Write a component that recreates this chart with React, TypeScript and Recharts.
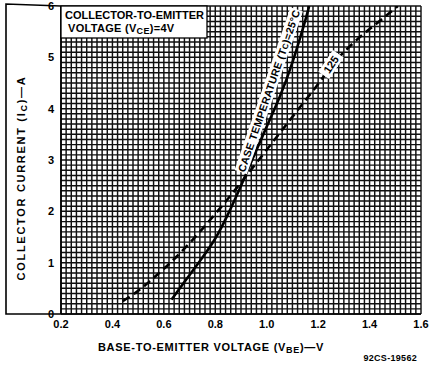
import React from 'react';
import { LineChart, Line, XAxis, YAxis, CartesianGrid, ReferenceDot } from 'recharts';

// 25 °C case temperature curve (solid)
const vbe25 = [0.63, 0.65, 0.7, 0.75, 0.8, 0.85, 0.9, 0.95, 1.0, 1.05, 1.1, 1.15, 1.165];
const ic25 = [0.28, 0.42, 0.76, 1.1, 1.47, 1.95, 2.5, 3.08, 3.65, 4.22, 4.9, 5.72, 6.0];
// 125 °C case temperature curve (dashed)
const vbe125 = [0.44, 0.5, 0.55, 0.6, 0.65, 0.7, 0.75, 0.8, 0.85, 0.9, 0.95, 1.0, 1.05, 1.1, 1.15, 1.2, 1.25, 1.3, 1.35, 1.4, 1.45, 1.51];
const ic125 = [0.25, 0.45, 0.66, 0.88, 1.12, 1.38, 1.66, 1.95, 2.25, 2.56, 2.88, 3.2, 3.52, 3.84, 4.16, 4.48, 4.82, 5.1, 5.34, 5.55, 5.75, 6.0];

const xLabels = ['0.2', '0.4', '0.6', '0.8', '1.0', '1.2', '1.4', '1.6'];
const yLabels = ['0', '1', '2', '3', '4', '5', '6'];

const X_MIN = 0.2, X_MAX = 1.6, X_MINOR = 0.02;
const Y_MIN = 0, Y_MAX = 6, Y_MINOR = 0.1;

const xTicks: number[] = [];
for (let i = 0; i <= Math.round((X_MAX - X_MIN) / X_MINOR); i++) xTicks.push(Number((X_MIN + i * X_MINOR).toFixed(2)));
const yTicks: number[] = [];
for (let i = 0; i <= Math.round((Y_MAX - Y_MIN) / Y_MINOR); i++) yTicks.push(Number((Y_MIN + i * Y_MINOR).toFixed(2)));

const data25 = vbe25.map((v, i) => ({ v, ic: ic25[i] }));
const data125 = vbe125.map((v, i) => ({ v, ic: ic125[i] }));

const FONT = '"Liberation Sans", Arial, sans-serif';

const fmtX = (val: number) => {
  const lbl = xLabels.find((l) => Math.abs(parseFloat(l) - val) < 1e-6);
  return lbl ?? '';
};
const fmtY = (val: number) => {
  const lbl = yLabels.find((l) => Math.abs(parseFloat(l) - val) < 1e-6);
  return lbl ?? '';
};

const BandLabel = (props: any) => {
  const vb = props.viewBox || {};
  const cx = (vb.x ?? 0) + (vb.width ?? 0) / 2;
  const cy = (vb.y ?? 0) + (vb.height ?? 0) / 2;
  const { angle, w, h, children, dx = 0, dy = 0 } = props.cfg;
  return (
    <g transform={`translate(${cx + dx},${cy + dy}) rotate(${angle})`}>
      <rect x={-w / 2} y={-h / 2} width={w} height={h} fill="#fff" />
      {children}
    </g>
  );
};

export default function App() {
  return (
    <div style={{ position: 'fixed', left: 0, top: 0, width: 431, height: 365, background: '#fff' }}>
      <LineChart
        width={431}
        height={365}
        margin={{ top: 6, right: 10, bottom: 0, left: 0 }}
        style={{ position: 'absolute', left: 0, top: 0 }}
      >
        <CartesianGrid stroke="#111" strokeWidth={1.45} />
        <XAxis
          type="number"
          dataKey="v"
          domain={[X_MIN, X_MAX]}
          ticks={xTicks}
          interval={0}
          tickFormatter={fmtX}
          tickLine={false}
          tickSize={0}
          tickMargin={6}
          height={51}
          axisLine={{ stroke: '#000', strokeWidth: 1.6 }}
          tick={{ fill: '#000', fontSize: 11, fontWeight: 700, fontFamily: FONT }}
          allowDataOverflow
        />
        <YAxis
          type="number"
          dataKey="ic"
          domain={[Y_MIN, Y_MAX]}
          ticks={yTicks}
          interval={0}
          tickFormatter={fmtY}
          tickLine={false}
          tickSize={0}
          tickMargin={7}
          width={61}
          axisLine={{ stroke: '#000', strokeWidth: 1.6 }}
          tick={{ fill: '#000', fontSize: 11, fontWeight: 700, fontFamily: FONT }}
          allowDataOverflow
        />
        <Line
          data={data125}
          dataKey="ic"
          type="natural"
          stroke="#000"
          strokeWidth={2.6}
          strokeDasharray="8 5"
          dot={false}
          isAnimationActive={false}
        />
        <Line
          data={data25}
          dataKey="ic"
          type="natural"
          stroke="#000"
          strokeWidth={2.6}
          dot={false}
          isAnimationActive={false}
        />
        <ReferenceDot
          x={1.0}
          y={4.35}
          r={1}
          fill="none"
          stroke="none"
          ifOverflow="visible"
          label={(p: any) => (
            <BandLabel
              {...p}
              cfg={{
                angle: -71,
                dx: 2,
                w: 172,
                h: 13,
                children: (
                  <text
                    x={0}
                    y={4}
                    textAnchor="middle"
                    fontSize={10.5}
                    fontWeight={700}
                    fontFamily={FONT}
                    fill="#000"
                    letterSpacing={0.3}
                  >
                    CASE TEMPERATURE (T<tspan fontSize={8}>C</tspan>)=25°C
                  </text>
                ),
              }}
            />
          )}
        />
        <ReferenceDot
          x={1.25}
          y={4.86}
          r={1}
          fill="none"
          stroke="none"
          ifOverflow="visible"
          label={(p: any) => (
            <BandLabel
              {...p}
              cfg={{
                angle: -56,
                w: 26,
                h: 13,
                children: (
                  <text x={0} y={4} textAnchor="middle" fontSize={11} fontWeight={700} fontFamily={FONT} fill="#000">
                    125
                  </text>
                ),
              }}
            />
          )}
        />
      </LineChart>
      <svg
        width={431}
        height={365}
        style={{ position: 'absolute', left: 0, top: 0, pointerEvents: 'none' }}
        fontFamily={FONT}
        fontWeight={700}
      >
        <path d="M61,6 L6,4 L6,314 L61,314" fill="none" stroke="#000" strokeWidth={1.6} />
        <rect x={61} y={6} width={146} height={32} fill="#fff" stroke="#000" strokeWidth={1.3} />
        <text x={65} y={19} fontSize={11} fill="#000">COLLECTOR-TO-EMITTER</text>
        <text x={68} y={32} fontSize={11} fill="#000" letterSpacing={0.3}>
          VOLTAGE (V<tspan fontSize={9} dy={2}>CE</tspan><tspan dy={-2}>)=4V</tspan>
        </text>
        <text
          transform="translate(25,178) rotate(-90)"
          textAnchor="middle"
          fontSize={11}
          fill="#000"
          letterSpacing={1.7}
        >
          COLLECTOR CURRENT (I<tspan fontSize={9} dy={2}>C</tspan><tspan dy={-2}>)—A</tspan>
        </text>
        <text x={211} y={351} textAnchor="middle" fontSize={11} fill="#000" letterSpacing={0.7}>
          BASE-TO-EMITTER VOLTAGE (V<tspan fontSize={9} dy={2}>BE</tspan><tspan dy={-2}>)—V</tspan>
        </text>
        <text x={417} y={361} textAnchor="end" fontSize={9} fill="#000" letterSpacing={0.3}>
          92CS-19562
        </text>
      </svg>
    </div>
  );
}
